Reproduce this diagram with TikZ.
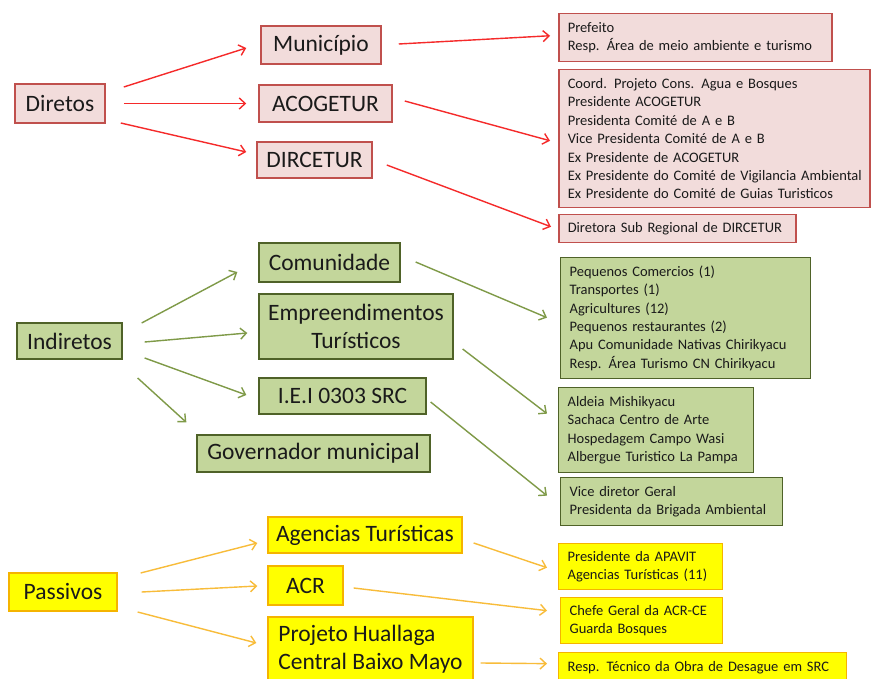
\documentclass[tikz,border=0pt]{standalone}
\usepackage{fontspec}
\setmainfont{Carlito}
\usetikzlibrary{arrows.meta}
\definecolor{rfill}{HTML}{F2DCDB}
\definecolor{rdraw}{HTML}{C0504D}
\definecolor{rline}{HTML}{F52A2A}
\definecolor{gfill}{HTML}{C3D69B}
\definecolor{gdraw}{HTML}{4F6228}
\definecolor{gline}{HTML}{7F9A48}
\definecolor{yfill}{HTML}{FFFF00}
\definecolor{ydraw}{HTML}{F5B400}
\definecolor{yline}{HTML}{F8BC3A}
\definecolor{txt}{HTML}{1A1A1A}
\newcommand\oneln[1]{\mbox{#1}}
\tikzset{
  big/.style={font=\fontsize{23.5}{28}\selectfont, text=txt, inner sep=0pt, align=center},
  lst/.style={font=\fontsize{14.5}{18.4}\selectfont, text=txt, align=left, inner xsep=9pt, inner ysep=0pt, anchor=north west},
  rbox/.style={draw=rdraw, fill=rfill, line width=1.5pt},
  gbox/.style={draw=gdraw, fill=gfill, line width=1.3pt},
  ybox/.style={draw=ydraw, fill=yfill, line width=1.3pt},
  rarr/.style={draw=rline, line width=1.4pt, -{Straight Barb[length=6pt,width=11pt,line width=1.4pt]}},
  garr/.style={draw=gline, line width=1.4pt, -{Straight Barb[length=6pt,width=11pt,line width=1.4pt]}},
  yarr/.style={draw=yline, line width=1.4pt, -{Straight Barb[length=6pt,width=11pt,line width=1.4pt]}}
}
\begin{document}
\begin{tikzpicture}[x=1pt,y=-1pt]
\useasboundingbox (0,0) rectangle (871,679);
\clip (0,0) rectangle (871,679);
\fill[white] (0,0) rectangle (871,679);

% ---------- Diretos (red) ----------
\node[big, rbox, minimum width=90pt, minimum height=39pt] (dir) at (60,103.5) {Diretos};
\node[big, rbox, minimum width=120pt, minimum height=38pt] (mun) at (321,45) {Município};
\node[big, rbox, minimum width=133pt, minimum height=37pt] (aco) at (325.5,103.5) {ACOGETUR};
\node[big, rbox, minimum width=115pt, minimum height=36pt] (dirc) at (314.5,160) {DIRCETUR};

\node[lst, rbox, text width=255pt, minimum height=48pt] (r1) at (558,13)
  {\oneln{Prefeito}\\\oneln{Resp. Área de meio ambiente e turismo}};
\node[lst, rbox, text width=293pt, minimum height=138pt] (r2) at (558,69)
  {\oneln{Coord. Projeto Cons. Agua e Bosques}\\\oneln{Presidente ACOGETUR}\\\oneln{Presidenta Comité de A e B}\\\oneln{Vice Presidenta Comité de A e B}\\\oneln{Ex Presidente de ACOGETUR}\\\oneln{Ex Presidente do Comité de Vigilancia Ambiental}\\\oneln{Ex Presidente do Comité de Guias Turisticos}};
\node[lst, rbox, text width=219pt, minimum height=28pt] (r3) at (558,214)
  {\oneln{Diretora Sub Regional de DIRCETUR}};

\draw[rarr] ([shift={(18,-16.5)}]dir.east) -- ([shift={(-14,3)}]mun.west);
\draw[rarr] ([shift={(18,0)}]dir.east) -- ([shift={(-12,0)}]aco.west);
\draw[rarr] ([shift={(15,19.5)}]dir.east) -- ([shift={(-10,-8)}]dirc.west);
\draw[rarr] ([shift={(17,-1)}]mun.east) -- ([shift={(-8,-2)}]r1.west);
\draw[rarr] ([shift={(12,-2.5)}]aco.east) -- ([shift={(-8,2)}]r2.west);
\draw[rarr] ([shift={(14,5)}]dirc.east) -- ([shift={(-7,-2)}]r3.west);

% ---------- Indiretos (green) ----------
\node[big, gbox, minimum width=105pt, minimum height=36pt] (ind) at (69.5,341) {Indiretos};
\node[big, gbox, minimum width=141pt, minimum height=39pt] (com) at (329.5,262.5) {Comunidade};
\node[big, gbox, minimum width=194pt, minimum height=65pt] (emp) at (356,326.5) {Empreendimentos\\Turísticos};
\node[big, gbox, minimum width=167pt, minimum height=36pt] (iei) at (342.5,396) {I.E.I 0303 SRC};
\node[big, gbox, minimum width=233pt, minimum height=37pt] (gov) at (313.5,453.5) {Governador municipal};

\node[lst, gbox, text width=232pt, minimum height=121pt] (g1) at (560,257)
  {\oneln{Pequenos Comercios (1)}\\\oneln{Transportes (1)}\\\oneln{Agricultures (12)}\\\oneln{Pequenos restaurantes (2)}\\\oneln{Apu Comunidade Nativas Chirikyacu}\\\oneln{Resp. Área Turismo CN Chirikyacu}};
\node[lst, gbox, text width=177pt, minimum height=85pt] (g2) at (558,387)
  {\oneln{Aldeia Mishikyacu}\\\oneln{Sachaca Centro de Arte}\\\oneln{Hospedagem Campo Wasi}\\\oneln{Albergue Turistico La Pampa}};
\node[lst, gbox, text width=204pt, minimum height=48pt] (g3) at (560,477)
  {\oneln{Vice diretor Geral}\\\oneln{Presidenta da Brigada Ambiental}};

\draw[garr] ([shift={(19,-18)}]ind.east) -- ([shift={(-21,9.5)}]com.west);
\draw[garr] ([shift={(22,1)}]ind.east) -- ([shift={(-11,6.5)}]emp.west);
\draw[garr] ([shift={(22,17)}]ind.east) -- ([shift={(-12,-1)}]iei.west);
\draw[garr] ([shift={(15,37)}]ind.east) -- ([shift={(-10,-12)}]gov.north west);
\draw[garr] ([shift={(15,-0.5)}]com.east) -- ([shift={(-13,-0.5)}]g1.west);
\draw[garr] ([shift={(9,22.5)}]emp.east) -- ([shift={(-11,-16.5)}]g2.west);
\draw[garr] ([shift={(4,6)}]iei.east) -- ([shift={(-13,-6)}]g3.west);

% ---------- Passivos (yellow) ----------
\node[big, ybox, minimum width=108pt, minimum height=38pt] (pas) at (63,592) {Passivos};
\node[big, ybox, minimum width=194pt, minimum height=36pt] (age) at (365,535) {Agencias Turísticas};
\node[big, ybox, minimum width=75pt, minimum height=39pt] (acr) at (305.5,585.5) {ACR};
\node[big, ybox, minimum width=205pt, minimum height=65pt, align=left] (pro) at (370.5,649.5) {Projeto Huallaga\\Central Baixo Mayo};

\node[lst, ybox, text width=146pt, minimum height=46pt] (y1) at (558,543)
  {\oneln{Presidente da APAVIT}\\\oneln{Agencias Turísticas (11)}};
\node[lst, ybox, text width=144pt, minimum height=46pt] (y2) at (560,597)
  {\oneln{Chefe Geral da ACR-CE}\\\oneln{Guarda Bosques}};
\node[lst, ybox, text width=270pt, minimum height=31pt] (y3) at (558,652)
  {\oneln{Resp. Técnico da Obra de Desague em SRC}};

\draw[yarr] ([shift={(23,-19)}]pas.east) -- ([shift={(-10,8)}]age.west);
\draw[yarr] ([shift={(24,0)}]pas.east) -- ([shift={(-10,0.5)}]acr.west);
\draw[yarr] ([shift={(20,20)}]pas.east) -- ([shift={(-11,-6.5)}]pro.west);
\draw[yarr] ([shift={(11,8)}]age.east) -- ([shift={(-11,1)}]y1.west);
\draw[yarr] ([shift={(10,2.5)}]acr.east) -- ([shift={(-13,-10)}]y2.west);
\draw[yarr] ([shift={(7,13.5)}]pro.east) -- ([shift={(-11,-4.5)}]y3.west);
\end{tikzpicture}
\end{document}
